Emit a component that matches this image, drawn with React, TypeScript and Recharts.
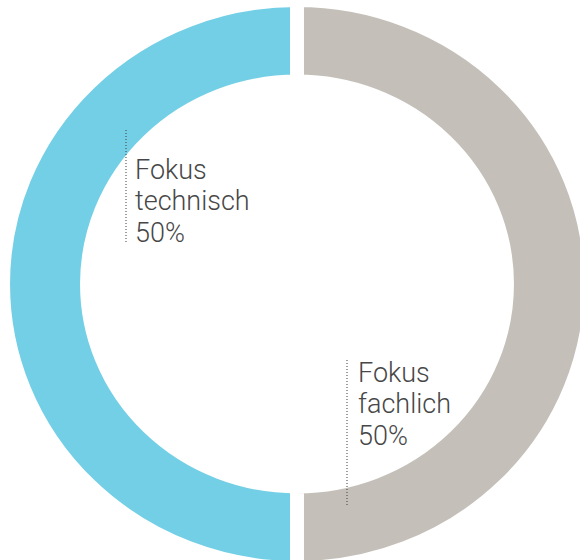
import { PieChart, Pie, Cell } from 'recharts';

// two halves of the donut, left (technisch) first
const categories = [
  ['Fokus', 'technisch'],
  ['Fokus', 'fachlich'],
];
const shares = [50, 50];
const colors = ['#73CFE6', '#C4C0B9'];

const data = categories.map((lines, i) => ({
  name: lines.join(' '),
  lines,
  value: shares[i],
}));

// the reference ring is a touch wider than tall
const SX = 1.036;
const CX = 297 / SX;
const CY = 284;
const GAP = 13.5;
const LINE_H = 31.5;

// label placement relative to the centre, in screen pixels
const labelLayout = [
  { lineX: -171, lineTop: -154, lineBottom: -41, textX: -162, baseline: -105 },
  { lineX: 50, lineTop: 76, lineBottom: 221, textX: 61, baseline: 98 },
];

const renderLabel = (props: any) => {
  const { index, value } = props;
  const cx = props.cx ?? CX;
  const cy = props.cy ?? CY;
  const l = labelLayout[index];
  const lines: string[] = data[index].lines;
  return (
    <g key={`lbl-${index}`}>
      <line
        x1={cx + l.lineX / SX}
        x2={cx + l.lineX / SX}
        y1={cy + l.lineTop}
        y2={cy + l.lineBottom}
        stroke="#444"
        strokeWidth={1}
        strokeDasharray="1 2"
      />
      <g transform={`translate(${cx + l.textX / SX}, ${cy + l.baseline}) scale(${1 / SX}, 1)`}>
        <text x={0} y={0} fill="#474747" fontSize={27} fontFamily="Roboto" fontWeight={300}>
          {lines.map((t, k) => (
            <tspan key={k} x={0} y={k * LINE_H}>
              {t}
            </tspan>
          ))}
          <tspan x={0} y={lines.length * LINE_H}>{`${value}%`}</tspan>
        </text>
      </g>
    </g>
  );
};

export default function App() {
  return (
    <div
      style={{
        position: 'absolute',
        left: 0,
        top: 0,
        width: 580,
        height: 560,
        overflow: 'hidden',
        background: '#fff',
      }}
    >
      <div style={{ transform: `scaleX(${SX})`, transformOrigin: '0 0', width: 580 / SX, height: 560 }}>
        <PieChart width={580 / SX} height={560} margin={{ top: 0, right: 0, bottom: 0, left: 0 }}>
          <Pie
            data={data}
            dataKey="value"
            nameKey="name"
            cx={CX}
            cy={CY}
            startAngle={90}
            endAngle={450}
            innerRadius={209.5 - GAP / 2}
            outerRadius={277 + GAP / 2}
            label={renderLabel}
            labelLine={false}
            isAnimationActive={false}
          >
            {data.map((d, i) => (
              <Cell key={d.name} fill={colors[i]} stroke="#fff" strokeWidth={GAP} />
            ))}
          </Pie>
        </PieChart>
      </div>
    </div>
  );
}
